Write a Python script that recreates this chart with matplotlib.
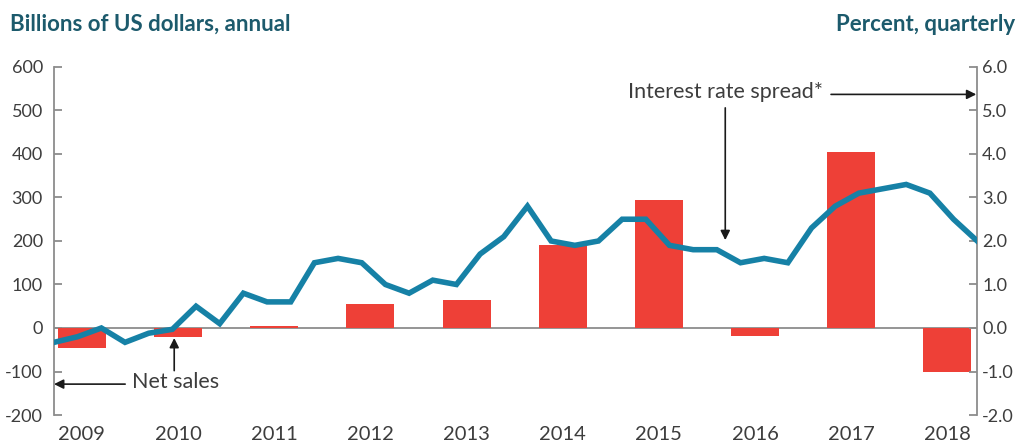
import numpy as np
import matplotlib
matplotlib.use("Agg")
import matplotlib.pyplot as plt

plt.rcParams['font.family'] = ['Lato', 'DejaVu Sans']

# Annual net sales, billions of US dollars
years = ['2009', '2010', '2011', '2012', '2013', '2014', '2015', '2016', '2017', '2018']
net_sales = [-45, -20, 5, 55, 65, 190, 295, -18, 405, -100]

# Quarterly interest rate spread, percent (2009 Q1 .. 2018 Q4)
spread = [-0.33, -0.2, 0.0, -0.33, -0.12, -0.03, 0.5, 0.1,
          0.8, 0.6, 0.6, 1.5, 1.6, 1.5, 1.0, 0.8,
          1.1, 1.0, 1.7, 2.1, 2.8, 2.0, 1.9, 2.0,
          2.5, 2.5, 1.9, 1.8, 1.8, 1.5, 1.6, 1.5,
          2.3, 2.8, 3.1, 3.2, 3.3, 3.1, 2.5, 2.0]

left_ticks = [-200, -100, 0, 100, 200, 300, 400, 500, 600]
right_ticks = [-2.0, -1.0, 0.0, 1.0, 2.0, 3.0, 4.0, 5.0, 6.0]

BAR = '#ee4037'
LINE = '#1681a6'
TITLE = '#1c5a6c'
SPINE = '#8c8c8c'
TXT = '#3d3d3d'

fig = plt.figure(figsize=(10.19, 4.46), dpi=100)
ax = fig.add_axes([0.053, 0.0695, 0.906, 0.7803])
ax2 = ax.twinx()

x = np.arange(len(years))
xmin, xmax = -0.29, 9.31

ax.bar(x, net_sales, width=0.5, color=BAR, zorder=2)
ax.axhline(0, color=SPINE, lw=1.3, zorder=1)
ax.set_xlim(xmin, xmax)
ax.set_ylim(-200, 600)
ax.set_yticks(left_ticks)
ax.set_yticklabels([str(t) for t in left_ticks])
ax.set_xticks(x)
ax.set_xticklabels(years)

# quarterly line spans the full plot width
xq = np.linspace(xmin, xmax, len(spread))
ax2.plot(xq, spread, color=LINE, lw=4.0, solid_joinstyle='miter', zorder=3)
ax2.set_ylim(-2.0, 6.0)
ax2.set_yticks(right_ticks)
ax2.set_yticklabels([f'{t:.1f}' for t in right_ticks])
ax2.set_xlim(xmin, xmax)

for a in (ax, ax2):
    for s in ('top', 'bottom'):
        a.spines[s].set_visible(False)
    a.spines['left'].set_color(SPINE)
    a.spines['right'].set_color(SPINE)
    a.spines['left'].set_linewidth(1.3)
    a.spines['right'].set_linewidth(1.3)
ax.spines['right'].set_visible(False)
ax2.spines['left'].set_visible(False)

ax.tick_params(axis='y', direction='in', length=6, width=1.3, color=SPINE,
               labelsize=13, labelcolor=TXT, pad=8)
ax.tick_params(axis='x', length=0, labelsize=14.5, labelcolor=TXT, pad=8)
ax2.tick_params(axis='y', direction='in', length=6, width=1.3, color=SPINE,
                labelsize=13, labelcolor=TXT, pad=3.5)

fig.text(0.01, 0.945, 'Billions of US dollars, annual', fontsize=16,
         fontweight='bold', color=TITLE, ha='left', va='center')
fig.text(0.996, 0.945, 'Percent, quarterly', fontsize=16,
         fontweight='bold', color=TITLE, ha='right', va='center')

arrow = dict(arrowstyle='-|>', color='#1a1a1a', lw=1.2,
             mutation_scale=14, shrinkA=0, shrinkB=0)

# interest rate spread label with arrows
ax.text(7.71, 542, 'Interest rate spread*', fontsize=15.5, color=TXT,
        ha='right', va='center', zorder=5)
ax.annotate('', xy=(9.30, 537), xytext=(7.79, 537), arrowprops=arrow,
            annotation_clip=False)
ax.annotate('', xy=(6.69, 202), xytext=(6.69, 506), arrowprops=arrow)

# net sales label with arrows
ax.text(0.52, -124, 'Net sales', fontsize=15.5, color=TXT,
        ha='left', va='center', zorder=5)
ax.annotate('', xy=(-0.29, -129), xytext=(0.45, -129), arrowprops=arrow,
            annotation_clip=False)
ax.annotate('', xy=(0.96, -23), xytext=(0.96, -98), arrowprops=arrow)

fig.savefig('out.png', dpi=100)
